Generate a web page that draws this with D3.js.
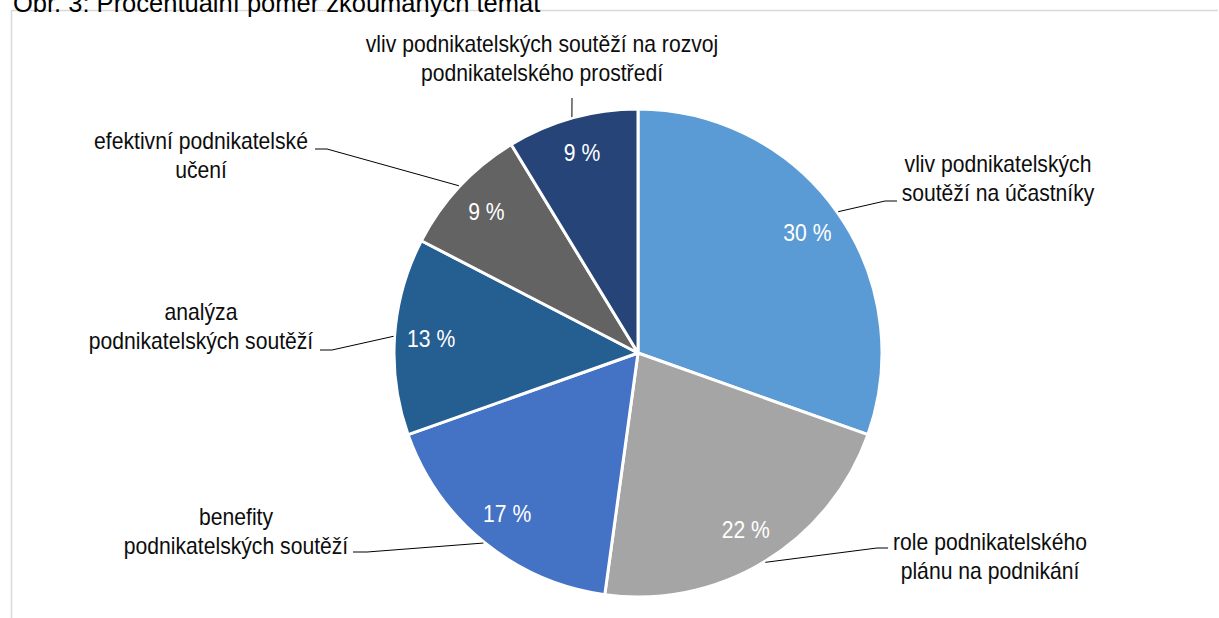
<!DOCTYPE html>
<html>
<head>
<meta charset="utf-8">
<script src="https://cdn.jsdelivr.net/npm/d3@7"></script>
<style>
    body { margin: 0; background: #fff; }
    svg { display: block; }
    text { font-family: "Liberation Sans", Arial, sans-serif; }
</style>
</head>
<body>
<svg id="chart" width="1219" height="618"></svg>
<script>
// counts of studies per topic (shares: 7/5/4/3/2/2 of 23)
const topics = [
    ["vliv podnikatelských", "soutěží na účastníky"],
    ["role podnikatelského", "plánu na podnikání"],
    ["benefity", "podnikatelských soutěží"],
    ["analýza", "podnikatelských soutěží"],
    ["efektivní podnikatelské", "učení"],
    ["vliv podnikatelských soutěží na rozvoj", "podnikatelského prostředí"]
]
const counts = [7, 5, 4, 3, 2, 2]
const colors = ["#5b9bd5", "#a5a5a5", "#4472c4", "#255e91", "#636363", "#264478"]
const title = "Obr. 3: Procentuální poměr zkoumaných témat"

// callout layout: text centre, first baseline, elbow of the leader, end of the short tail
const callouts = [
    { tx: 998, ty: 172, elbow: [885, 201], tail: [897, 201] },
    { tx: 990, ty: 550, elbow: [877, 548], tail: [888, 548] },
    { tx: 236, ty: 525, elbow: [367, 552], tail: [353, 552] },
    { tx: 201, ty: 320, elbow: [332, 350], tail: [320, 350] },
    { tx: 201, ty: 149, elbow: [327, 149], tail: [315, 149] },
    { tx: 542, ty: 52, elbow: [572, 98], tail: [572, 98] }
]

const width = 1219
const height = 618
const cx = 638
const cy = 353
const radius = 244
const lineHeight = 29
const squeeze = 0.92   // the original uses a slightly condensed face

const svg = d3.select("#chart")
    .attr("viewBox", [0, 0, width, height])

// frame of the figure
svg.append("path")
    .attr("d", `M11.5,${height} V10.5 H1218`)
    .attr("fill", "none")
    .attr("stroke", "#d9d9d9")
    .attr("stroke-width", 1.5)

svg.append("text")
    .text(title)
    .attr("x", 13)
    .attr("y", 12)
    .attr("font-size", 25.5)
    .attr("fill", "#000")

const total = d3.sum(counts)
const data = counts.map((c, i) => ({ count: c, name: topics[i], color: colors[i], callout: callouts[i] }))

const pie = d3.pie()
    .value(d => d.count)
    .sort(null)

const arc = d3.arc()
    .innerRadius(0)
    .outerRadius(radius)

const labelArc = d3.arc()
    .innerRadius(radius * 0.85)
    .outerRadius(radius * 0.85)

const edgeArc = d3.arc()
    .innerRadius(radius + 1)
    .outerRadius(radius + 1)

const arcs = pie(data)

const g = svg.append("g")
    .attr("transform", `translate(${cx},${cy})`)

g.selectAll("path.slice")
    .data(arcs)
    .join("path")
    .attr("class", "slice")
    .attr("d", arc)
    .attr("fill", d => d.data.color)
    .attr("stroke", "#fff")
    .attr("stroke-width", 3)
    .attr("stroke-linejoin", "round")

g.selectAll("text.pct")
    .data(arcs)
    .join("text")
    .attr("class", "pct")
    .attr("transform", d => `translate(${labelArc.centroid(d)}) scale(${squeeze},1)`)
    .attr("text-anchor", "middle")
    .attr("dy", "0.35em")
    .attr("font-size", 23)
    .attr("fill", "#fff")
    .text(d => Math.round(d.data.count / total * 100) + " %")

// leader lines from slice edge to the callout text
svg.selectAll("polyline.leader")
    .data(arcs)
    .join("polyline")
    .attr("class", "leader")
    .attr("points", d => {
        const p = edgeArc.centroid(d)
        const c = d.data.callout
        return [[p[0] + cx, p[1] + cy], c.elbow, c.tail].map(q => q.join(",")).join(" ")
    })
    .attr("fill", "none")
    .attr("stroke", "#000")
    .attr("stroke-width", 1)

const names = svg.selectAll("text.name")
    .data(arcs)
    .join("text")
    .attr("class", "name")
    .attr("transform", d => `translate(${d.data.callout.tx},${d.data.callout.ty}) scale(${squeeze},1)`)
    .attr("text-anchor", "middle")
    .attr("font-size", 23)
    .attr("fill", "#0d0d0d")

names.selectAll("tspan")
    .data(d => d.data.name)
    .join("tspan")
    .attr("x", 0)
    .attr("y", (d, i) => i * lineHeight)
    .text(d => d)
</script>
</body>
</html>
